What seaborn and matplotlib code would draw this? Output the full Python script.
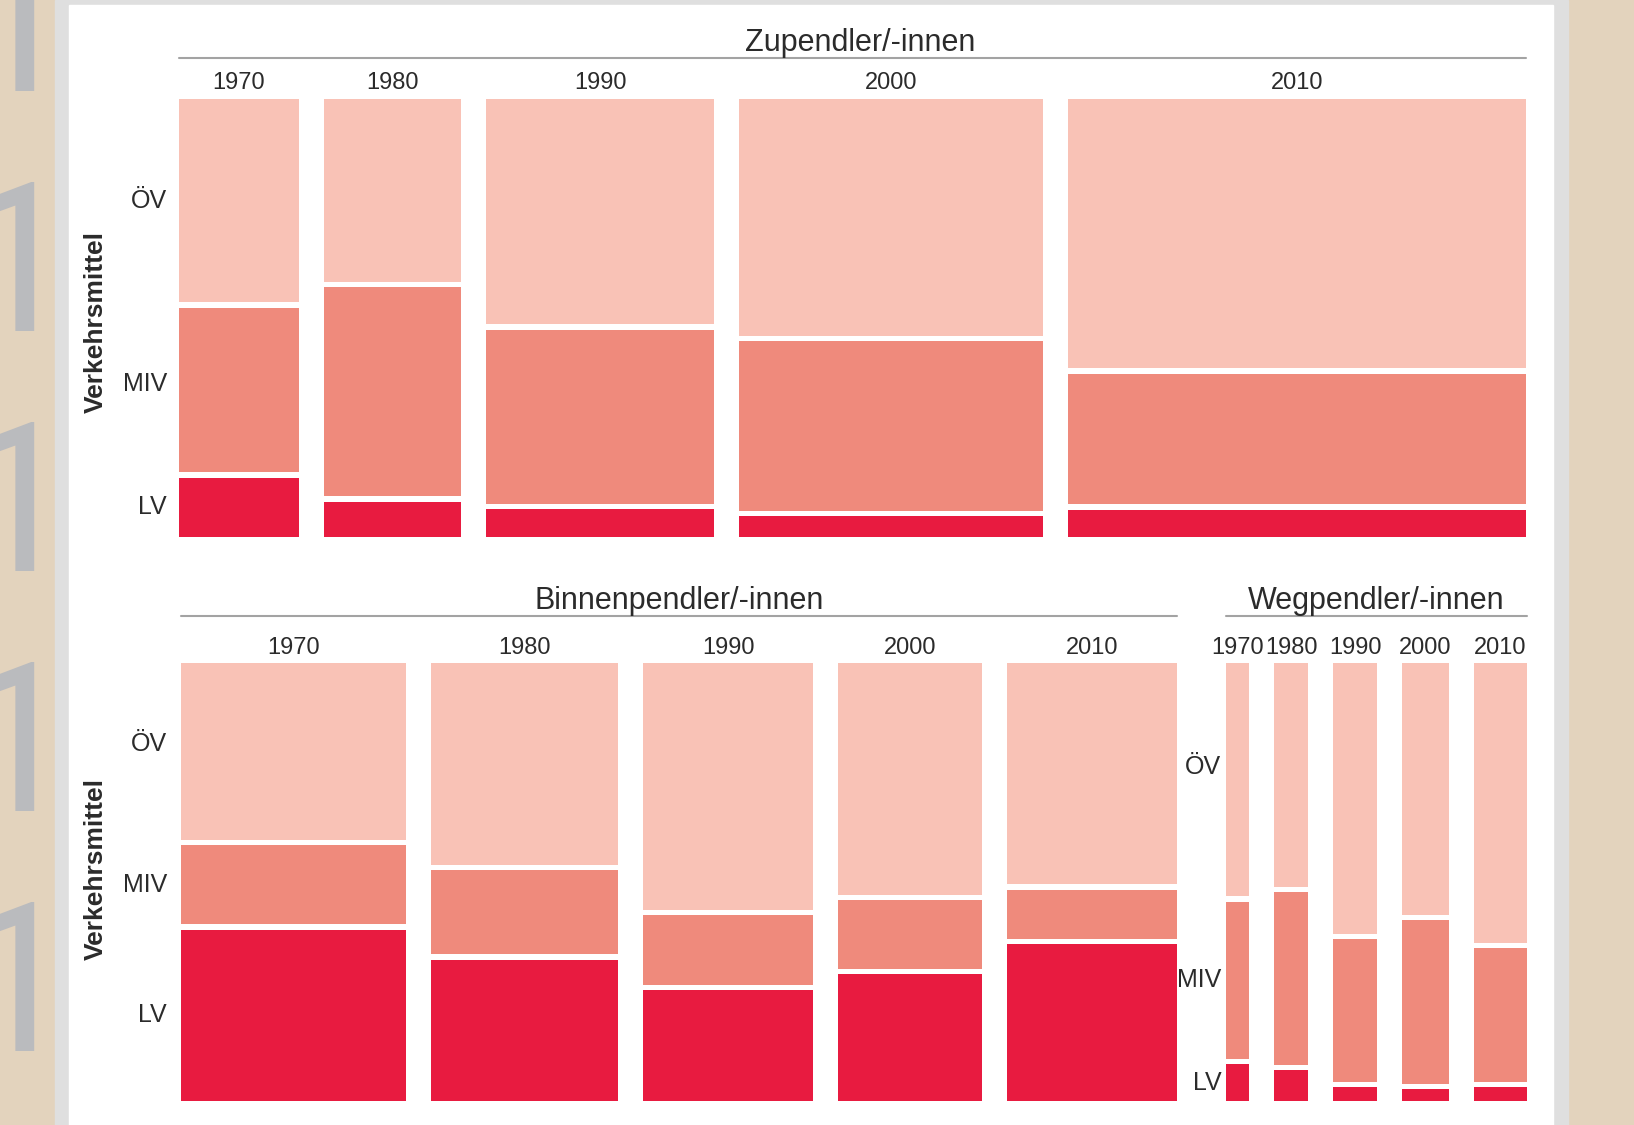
import numpy as np
import matplotlib
matplotlib.use("Agg")
import matplotlib.pyplot as plt
import matplotlib.transforms as mtransforms
from matplotlib.patches import Rectangle
import seaborn as sns

# ==========================================
# Data (widths ~ Anzahl Pendler/-innen, Tsd.; shares in %)
# ==========================================
years = ["1970", "1980", "1990", "2000", "2010"]
modes = ["ÖV", "MIV", "LV"]

zu_total = [11.5, 13.2, 21.9, 29.1, 44.0]
zu_oev = [47.6, 42.8, 52.7, 55.4, 63.0]
zu_miv = [38.5, 48.9, 40.7, 39.7, 30.6]
zu_lv = [13.9, 8.3, 6.6, 4.9, 6.4]

binnen_total = [21.6, 18.0, 16.3, 13.8, 16.4]
binnen_oev = [41.3, 47.3, 57.7, 54.2, 51.8]
binnen_miv = [18.6, 19.6, 16.4, 16.2, 11.5]
binnen_lv = [40.1, 33.1, 25.9, 29.6, 36.7]

weg_total = [2.2, 3.3, 4.2, 4.5, 5.1]
weg_oev = [54.6, 52.4, 63.3, 58.9, 65.4]
weg_miv = [36.8, 40.4, 33.4, 38.4, 31.3]
weg_lv = [8.6, 7.2, 3.3, 2.7, 3.3]

# ==========================================
# Style
# ==========================================
sns.set_theme(style="white")
FONT = ["Liberation Sans", "DejaVu Sans"]
plt.rcParams["font.family"] = FONT

palette = sns.color_palette(["#F9C2B6", "#EF8A7C", "#E81B40"])
TXT = "#2B2B2B"
LINE = "#A3A3A3"
W, H = 1634, 1125
GAP = 2.4          # horizontal gap between columns (data units)
GROUP_GAP = 4.7    # gap between Binnen- and Wegpendler
VGAP = 0.012       # white gap between stacked segments

MARGIN_FONT = dict(fontsize=150, family=["Roboto", "Liberation Sans"], fontweight="normal")


def ink_offset(props):
    # where does the glyph ink land relative to the text anchor? (pixels)
    f = plt.figure(figsize=(8, 8), dpi=100)
    f.text(0.5, 0.5, "1", ha="left", va="baseline", color="black", **props)
    f.canvas.draw()
    img = np.asarray(f.canvas.buffer_rgba())[..., 0]
    ys, xs = np.nonzero(img < 128)
    plt.close(f)
    return xs.max() - 400, ys.max() - 400


fig = plt.figure(figsize=(W / 100, H / 100), dpi=100)
fig.patch.set_facecolor("#E3D3BD")
fig.add_artist(Rectangle((55 / W, 0), (1568 - 55) / W, 1, transform=fig.transFigure,
                         color="#DFDFDF", zorder=-10))
fig.add_artist(Rectangle((69 / W, 0), (1553 - 69) / W, 1 - 5 / H, transform=fig.transFigure,
                         color="white", zorder=-9))

# decorative page numbers in the left margin (stem right edge at x=33 px)
dx, dy = ink_offset(MARGIN_FONT)
for yb in [90, 330, 570, 810, 1050]:
    fig.text((33 - dx) / W, 1 - (yb - dy) / H, "1", color="#BABBBE", ha="left",
             va="baseline", zorder=-8, **MARGIN_FONT)


def draw_group(ax, x0, totals, oev, miv, lv, gap):
    totals = np.array(totals, dtype=float)
    shares = np.array([lv, miv, oev], dtype=float)
    shares = shares / shares.sum(axis=0)
    h = shares * (1 - 2 * VGAP)
    lefts = x0 + np.concatenate([[0], np.cumsum(totals + gap)[:-1]])
    bottoms = [np.zeros(len(totals)), h[0] + VGAP, h[0] + h[1] + 2 * VGAP]
    colors = [palette[2], palette[1], palette[0]]
    for k in range(3):
        ax.bar(lefts, h[k], width=totals, bottom=bottoms[k], align="edge",
               color=colors[k], linewidth=0)
    centers = lefts + totals / 2
    # label positions: middle of the first column's segments (ÖV, MIV, LV)
    mids = [bottoms[2][0] + h[2][0] / 2, bottoms[1][0] + h[1][0] / 2, h[0][0] / 2]
    return lefts, centers, mids, lefts[-1] + totals[-1]


def group_title(ax, x_start, x_end, title, line_px, text_px, dx=0):
    trans = mtransforms.blended_transform_factory(ax.transData, ax.transAxes)
    hpx = ax.get_position().height * H
    ax.plot([x_start, x_end], [1 + line_px / hpx] * 2, color=LINE, lw=1.5,
            transform=trans, clip_on=False)
    ttrans = mtransforms.offset_copy(trans, fig=fig, x=dx, y=0, units="dots")
    ax.text((x_start + x_end) / 2, 1 + text_px / hpx, title, transform=ttrans,
            ha="center", va="baseline", fontsize=22, color=TXT)


def mode_labels(ax, x, mids, offset, dy=(0, 0, 0)):
    for m, y, d in zip(modes, mids, dy):
        ax.annotate(m, (x, y), xytext=(offset, d), textcoords="offset points",
                    ha="right", va="center", fontsize=18, color=TXT, annotation_clip=False)


def finish_axes(ax, centers, labels, xmax, pad):
    ax.set_xlim(0, xmax)
    ax.set_ylim(0, 1)
    ax.set_facecolor("none")
    for s in ax.spines.values():
        s.set_visible(False)
    ax.set_yticks([])
    ax.set_xticks(centers, labels)
    ax.tick_params(axis="x", top=True, bottom=False, labeltop=True, labelbottom=False,
                   length=0, pad=pad, labelsize=17, labelcolor=TXT)


# ==========================================
# Top: Zupendler/-innen
# ==========================================
ax1 = fig.add_axes([179 / W, (H - 537) / H, 1347 / W, 438 / H])
l1, c1, m1, end1 = draw_group(ax1, 0, zu_total, zu_oev, zu_miv, zu_lv, GAP)
finish_axes(ax1, c1, years, end1, 3.3)
group_title(ax1, 0, end1, "Zupendler/-innen", 41, 48, dx=8)
mode_labels(ax1, 0, m1, -8.6, dy=(0, 4, 0))
fig.text(96 / W, 1 - 322 / H, "Verkehrsmittel", rotation=90, ha="center", va="center",
         fontsize=19, fontweight="bold", color=TXT)

# ==========================================
# Bottom: Binnenpendler/-innen and Wegpendler/-innen
# ==========================================
ax2 = fig.add_axes([181 / W, (H - 1101) / H, 1346 / W, 438 / H])
l2, c2, m2, end2 = draw_group(ax2, 0, binnen_total, binnen_oev, binnen_miv, binnen_lv, GAP)
l3, c3, m3, end3 = draw_group(ax2, end2 + GROUP_GAP, weg_total, weg_oev, weg_miv, weg_lv, GAP)
finish_axes(ax2, list(c2) + list(c3), years + years, end3, 2.6)
group_title(ax2, 0, end2, "Binnenpendler/-innen", 47, 54)
group_title(ax2, l3[0], end3, "Wegpendler/-innen", 47, 54)
mode_labels(ax2, 0, m2, -10, dy=(5, 0, 0))
mode_labels(ax2, l3[0], m3, -3.6, dy=(9, 0, 0))
fig.text(96 / W, 1 - 869 / H, "Verkehrsmittel", rotation=90, ha="center", va="center",
         fontsize=19, fontweight="bold", color=TXT)

fig.savefig("out.png", dpi=100, facecolor=fig.get_facecolor())
